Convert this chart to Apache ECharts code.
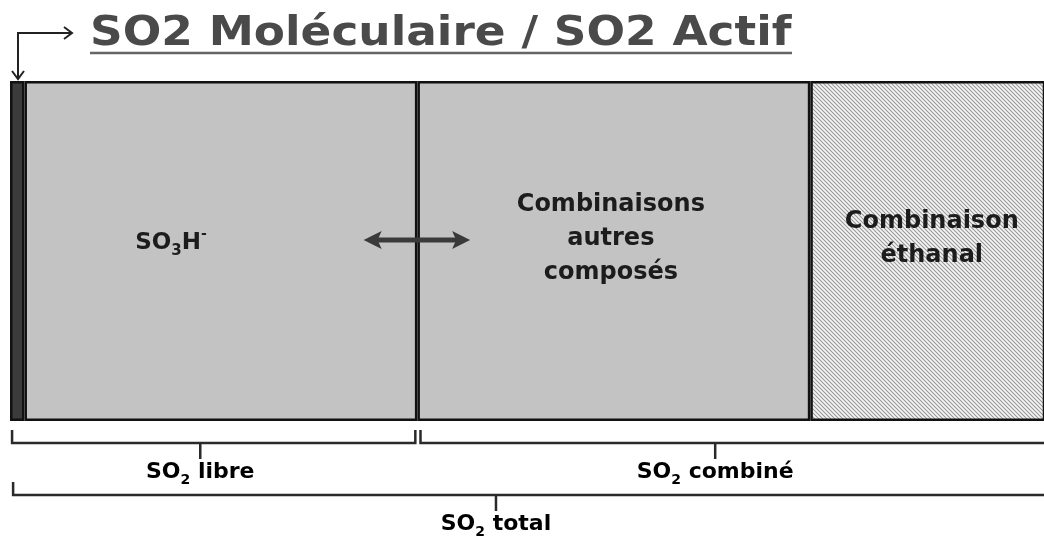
<!DOCTYPE html>
<html>
<head>
<meta charset="utf-8">
<script src="https://cdn.jsdelivr.net/npm/echarts@6/dist/echarts.min.js"></script>
<style>
  html, body { margin: 0; padding: 0; background: #fff; }
  #main { width: 1044px; height: 543px; }
</style>
</head>
<body>
<div id="main"></div>
<script>
  // parts of SO2 total, in % of the visible bar (the last one runs off the picture)
  var segNames = ['SO2 moléculaire', 'SO3H-', 'Combinaisons autres composés', 'Combinaison éthanal'];
  var segValues = [1.4, 38.0, 38.0, 24.0];

  // brackets under the bar : start, end, where the label tick sits
  var bracketNames = ['SO2 libre', 'SO2 combiné', 'SO2 total'];
  var bracketStart = [0.2, 39.7, 0.3];
  var bracketEnd = [39.2, 101, 101];
  var bracketTick = [18.4, 68.2, 47.0];

  // equilibrium arrow between free and bound SO2
  var exchange = [34.2, 44.5];

  var FONT = '"DejaVu Sans", sans-serif';
  var INK = '#1c1c1c';

  function hatch() {
    var c = document.createElement('canvas');
    c.width = 4; c.height = 4;
    var g = c.getContext('2d');
    g.fillStyle = '#f5f5f5';
    g.fillRect(0, 0, 4, 4);
    g.strokeStyle = '#999';
    g.lineWidth = 1.1;
    g.beginPath();
    g.moveTo(-1, -1); g.lineTo(5, 5);
    g.moveTo(3, -1); g.lineTo(5, 1);
    g.moveTo(-1, 3); g.lineTo(1, 5);
    g.stroke();
    return c;
  }

  var subRich = {
    a: { fontSize: 22, fontWeight: 'bold', color: INK, fontFamily: FONT, lineHeight: 30 },
    s: { fontSize: 14, fontWeight: 'bold', color: INK, fontFamily: FONT, lineHeight: 30, verticalAlign: 'bottom' },
    p: { fontSize: 13, fontWeight: 'bold', color: INK, fontFamily: FONT, lineHeight: 30, verticalAlign: 'top' }
  };
  var bigRich = {
    a: { fontSize: 23, fontWeight: 'bold', color: INK, fontFamily: FONT, lineHeight: 32 },
    s: { fontSize: 15, fontWeight: 'bold', color: INK, fontFamily: FONT, lineHeight: 32, verticalAlign: 'bottom' },
    p: { fontSize: 14, fontWeight: 'bold', color: INK, fontFamily: FONT, lineHeight: 30, verticalAlign: 'top' }
  };

  // "SO2 libre" -> SO + subscript 2 + rest
  function withSub(name) {
    return name.replace(/SO(\d)/, '{a|SO}{s|$1}{a|') + '}';
  }

  var segColors = ['#3b3b3b', '#c3c3c3', '#c3c3c3', { image: hatch(), repeat: 'repeat' }];
  var segLabels = [
    { show: false },
    { show: true, formatter: '{a|SO}{s|3}{a|H}{p|-}', rich: bigRich, offset: [-50, -8] },
    { show: true, formatter: 'Combinaisons\nautres\ncomposés', offset: [-3, -12] },
    { show: true, formatter: 'Combinaison\néthanal', offset: [4, -12] }
  ];

  var series = segNames.map(function (n, i) {
    var lab = segLabels[i];
    lab.position = 'inside';
    lab.color = INK;
    lab.fontFamily = FONT;
    lab.fontWeight = 'bold';
    lab.fontSize = 24;
    lab.lineHeight = 34;
    return {
      name: n,
      type: 'bar',
      stack: 'total',
      barWidth: '100%',
      clip: true,
      data: [segValues[i]],
      itemStyle: { color: segColors[i], borderColor: '#111', borderWidth: 2.5 },
      label: lab,
      silent: true
    };
  });

  var rowY = [443, 443, 495];

  series.push({
    type: 'custom',
    name: 'brackets',
    silent: true,
    z: 10,
    encode: { x: [0, 1, 2], y: 3 },
    data: bracketNames.map(function (n, i) { return [bracketStart[i], bracketEnd[i], bracketTick[i], 0]; }),
    renderItem: function (params, api) {
      var i = params.dataIndex;
      var x1 = api.coord([api.value(0), 0])[0];
      var x2 = api.coord([api.value(1), 0])[0];
      var xt = api.coord([api.value(2), 0])[0];
      var y = rowY[i];
      var st = { stroke: '#2a2a2a', lineWidth: 2.5, fill: null };
      return {
        type: 'group',
        children: [
          { type: 'polyline', shape: { points: [[x1, y - 13], [x1, y], [x2, y], [x2, y - 13]] }, style: st },
          { type: 'line', shape: { x1: xt, y1: y, x2: xt, y2: y + 16 }, style: st },
          {
            type: 'text',
            x: xt, y: y + 14,
            style: { text: withSub(bracketNames[i]), rich: subRich, align: 'center', verticalAlign: 'top' }
          }
        ]
      };
    }
  });

  series.push({
    type: 'custom',
    name: 'exchange',
    silent: true,
    z: 10,
    encode: { x: [0, 1], y: 2 },
    data: [[exchange[0], exchange[1], 0]],
    renderItem: function (params, api) {
      var a = api.coord([api.value(0), 0])[0];
      var b = api.coord([api.value(1), 0])[0];
      var y = 240;
      var col = '#3a3a3a';
      return {
        type: 'group',
        children: [
          { type: 'line', shape: { x1: a + 12, y1: y, x2: b - 12, y2: y }, style: { stroke: col, lineWidth: 5 } },
          { type: 'polygon', shape: { points: [[a, y], [a + 18, y - 9], [a + 14, y], [a + 18, y + 9]] }, style: { fill: col } },
          { type: 'polygon', shape: { points: [[b, y], [b - 18, y - 9], [b - 14, y], [b - 18, y + 9]] }, style: { fill: col } }
        ]
      };
    }
  });

  var chart = echarts.init(document.getElementById('main'));
  chart.setOption({
    backgroundColor: '#fff',
    animation: false,
    grid: { left: 10, right: 0, top: 81, height: 340 },
    xAxis: { type: 'value', min: 0, max: 100, show: false },
    yAxis: { type: 'category', data: ['SO2'], show: false },
    graphic: [
      {
        type: 'text', x: 90, y: 15, scaleX: 1.135,
        style: { text: 'SO2 Moléculaire / SO2 Actif', fill: '#4a4a4a', font: 'bold 40px "DejaVu Sans", sans-serif' }
      },
      { type: 'line', shape: { x1: 90, y1: 53, x2: 792, y2: 53 }, style: { stroke: '#666', lineWidth: 2.5 } },
      { type: 'polyline', shape: { points: [[18, 78], [18, 33], [72, 33]] }, style: { stroke: '#222', lineWidth: 2, fill: null } },
      { type: 'polyline', shape: { points: [[64, 27], [72, 33], [64, 39]] }, style: { stroke: '#222', lineWidth: 2, fill: null } },
      { type: 'polyline', shape: { points: [[12, 71], [18, 79], [24, 71]] }, style: { stroke: '#222', lineWidth: 2, fill: null } }
    ],
    series: series
  });
</script>
</body>
</html>
